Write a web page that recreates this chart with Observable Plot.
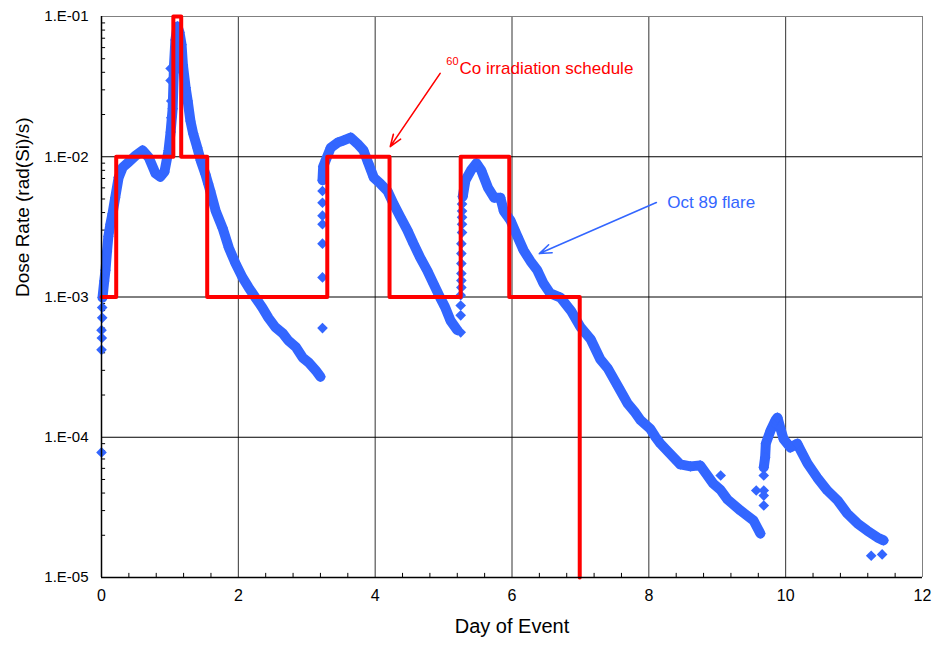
<!DOCTYPE html>
<html>
<head>
<meta charset="utf-8">
<script src="https://cdn.jsdelivr.net/npm/d3@7"></script>
<script src="https://cdn.jsdelivr.net/npm/@observablehq/plot@0.6"></script>
<style>
  html, body { margin: 0; padding: 0; background: #fff; }
</style>
</head>
<body>
<div id="chart"></div>
<script>
// ---- Data (day of event, dose rate rad(Si)/s) ----
// Oct 89 flare: continuous dense portions of the measured record
const flare1 = [
  [0.015, 0.00099],[0.04, 0.0013],[0.058, 0.00155],[0.08, 0.0021],[0.10, 0.0027],[0.13, 0.0033],
  [0.16, 0.0039],[0.20, 0.0051],[0.25, 0.0071],[0.31, 0.0084],[0.39, 0.0091],[0.50, 0.0102],
  [0.60, 0.0111],[0.69, 0.0099],[0.79, 0.0076],[0.86, 0.0072],[0.92, 0.0078],[0.98, 0.0111],
  [1.01, 0.0150],[1.04, 0.022],[1.06, 0.045],[1.08, 0.068],[1.11, 0.085],[1.14, 0.077],
  [1.17, 0.063],[1.19, 0.045],[1.23, 0.031],[1.26, 0.025],[1.30, 0.018],[1.34, 0.0146],
  [1.40, 0.0116],[1.45, 0.0094],[1.52, 0.0075],[1.56, 0.0064],[1.59, 0.0057],[1.67, 0.0041],
  [1.77, 0.0031],[1.86, 0.00225],[1.96, 0.00173],[2.06, 0.00138],[2.15, 0.00117],[2.25, 0.00099],
  [2.35, 0.00084],[2.44, 0.00071],[2.54, 0.00061],[2.65, 0.00055],[2.73, 0.00049],[2.84, 0.00044],
  [2.94, 0.00037],[3.03, 0.00034],[3.13, 0.00030],[3.20, 0.00027]
];
const flare2 = [
  [3.23, 0.0068],[3.24, 0.0085],[3.28, 0.0095],[3.35, 0.0116],[3.45, 0.0126],[3.54, 0.0131],
  [3.64, 0.0137],[3.74, 0.0124],[3.83, 0.0111],[3.90, 0.0090],[3.98, 0.0071],[4.08, 0.0064],
  [4.18, 0.0057],[4.27, 0.0046],[4.37, 0.0037],[4.47, 0.0030],[4.56, 0.0024],[4.66, 0.0019],
  [4.76, 0.00155],[4.85, 0.00125],[4.95, 0.00099],[5.02, 0.00085],[5.10, 0.00068],[5.20, 0.00058]
];
const flare3 = [
  [5.28, 0.0052],[5.32, 0.0068],[5.40, 0.0080],[5.48, 0.0090],[5.55, 0.0080],[5.65, 0.0060],
  [5.74, 0.0051],[5.83, 0.0051],[5.88, 0.0041],[5.98, 0.0035],[6.08, 0.0027],[6.17, 0.00215],
  [6.27, 0.0018],[6.37, 0.00155],[6.46, 0.00125],[6.56, 0.00106],[6.71, 0.00099],[6.86, 0.00080],
  [7.00, 0.00061],[7.15, 0.00050],[7.29, 0.00036],[7.40, 0.00031],[7.55, 0.00023],[7.69, 0.000174],
  [7.80, 0.000150],[7.88, 0.000132],[8.02, 0.000115],[8.10, 0.000100],[8.17, 0.000090],[8.27, 0.000080],
  [8.46, 0.000064],[8.61, 0.000062],[8.75, 0.000063],[8.94, 0.0000468],[9.05, 0.000042],[9.15, 0.000036],
  [9.34, 0.000030],[9.53, 0.0000255],[9.63, 0.0000206]
];
const flare4 = [
  [9.68, 0.000061],[9.70, 0.000072],[9.71, 0.000090],[9.78, 0.000112],[9.85, 0.000132],[9.88, 0.000138],
  [9.92, 0.000117],[9.97, 0.000097],[10.07, 0.0000845],[10.17, 0.000090],[10.22, 0.0000805],[10.32, 0.000065],
  [10.46, 0.0000516],[10.61, 0.0000417],[10.76, 0.0000354],[10.90, 0.0000286],[11.05, 0.0000243],
  [11.19, 0.0000216],[11.34, 0.0000193],[11.43, 0.0000184]
];
// isolated flare samples (fast rises and outliers)
const flareIsolated = [
  [0.00, 0.000078],[0.00, 0.00042],[0.005, 0.00051],[0.00, 0.00058],[0.01, 0.00071],[0.01, 0.00084],
  [1.01, 0.0426],[1.01, 0.035],[1.02, 0.025],[1.02, 0.019],
  [3.23, 0.00060],[3.23, 0.00138],[3.23, 0.0024],[3.23, 0.0033],[3.23, 0.0038],[3.23, 0.0047],[3.23, 0.0057],
  [5.25, 0.00056],[5.25, 0.00074],[5.25, 0.00087],[5.25, 0.00103],[5.26, 0.00117],[5.26, 0.00131],
  [5.26, 0.00147],[5.26, 0.00173],[5.26, 0.00204],[5.26, 0.0024],[5.27, 0.00288],[5.27, 0.0033],
  [5.27, 0.0037],[5.27, 0.0041],[5.27, 0.0046],
  [9.05, 0.0000534],[9.57, 0.0000417],[9.68, 0.0000417],[9.68, 0.0000384],[9.68, 0.0000326],[9.68, 0.0000534],
  [11.25, 0.0000143],[11.41, 0.0000146]
];
// 60Co irradiation schedule: level changes (step after)
const coSchedule = [
  [0, 1e-3],[0.215, 1e-2],[1.05, 1e-1],[1.165, 1e-2],[1.545, 1e-3],
  [3.30, 1e-2],[4.21, 1e-3],[5.25, 1e-2],[5.96, 1e-3],[6.99, 1e-5]
];
// ticks
const xTicks = [0, 2, 4, 6, 8, 10, 12];
const yTicks = [1e-5, 1e-4, 1e-3, 1e-2, 1e-1];
const yTickLabels = ["1.E-05", "1.E-04", "1.E-03", "1.E-02", "1.E-01"];
const xTitle = "Day of Event";
const yTitle = "Dose Rate (rad(Si)/s)";
// annotations (anchored in data coordinates)
const coArrow = [{x1: 4.95, y1: 0.0393, x2: 4.22, y2: 0.0118}];
const flareArrow = [{x1: 8.11, y1: 0.00472, x2: 6.40, y2: 0.00204}];
const coLabel = [{day: 5.232, rate: 0.0426, text: "Co irradiation schedule"}];
const coSup = [{day: 5.04, rate: 0.0475, text: "60"}];
const flareLabel = [{day: 8.27, rate: 0.00472, text: "Oct 89 flare"}];

// ---- build ----
const blue = "#3366ff", red = "#ff0000";
const rows = (arr, seg) => arr.map(([day, rate]) => ({day, rate, seg}));
const bandData = [...rows(flare1, 1), ...rows(flare2, 2), ...rows(flare3, 3), ...rows(flare4, 4)];
const isoData = rows(flareIsolated, 0);
const schedData = rows(coSchedule, 0);

const minorY = [];
for (const d of [1e-5, 1e-4, 1e-3, 1e-2]) for (let m = 2; m <= 9; m++) minorY.push(m * d);
const minorX = d3.range(1, 30).filter(i => i % 5 !== 0).map(i => i * 0.4);

const chart = Plot.plot({
  width: 935,
  height: 645,
  marginLeft: 101,
  marginRight: 13,
  marginTop: 16,
  marginBottom: 68,
  x: {domain: [0, 12], axis: null},
  y: {type: "log", domain: [1e-5, 1e-1], axis: null},
  style: {fontFamily: "'Liberation Sans', Arial, sans-serif", background: "#fff", color: "#000", overflow: "visible"},
  marks: [
    // grid
    Plot.ruleX(xTicks.slice(1, -1), {stroke: "#333", strokeWidth: 1}),
    Plot.ruleY(yTicks.slice(1, -1), {stroke: "#000", strokeWidth: 1}),
    // top & right border
    Plot.ruleY([1e-1], {stroke: "#808080", strokeWidth: 1}),
    Plot.ruleX([12], {stroke: "#808080", strokeWidth: 1}),
    // minor ticks (inward)
    Plot.ruleY(minorY, {x1: () => 0, x2: () => 0.06, stroke: "#000", strokeWidth: 1}),
    Plot.ruleX(minorX, {y1: () => 1e-5, y2: () => 1.07e-5, stroke: "#000", strokeWidth: 1}),
    // flare data
    Plot.line(bandData, {x: "day", y: "rate", z: "seg", stroke: blue, strokeWidth: 10,
      strokeLinejoin: "round", strokeLinecap: "round"}),
    Plot.dot([...bandData, ...isoData], {x: "day", y: "rate", symbol: "diamond2", r: 4.8, fill: blue, stroke: "none"}),
    // 60Co schedule
    Plot.line(schedData, {x: "day", y: "rate", curve: "step-after", stroke: red, strokeWidth: 4}),
    // axes lines
    Plot.ruleX([0], {stroke: "#000", strokeWidth: 1.5}),
    Plot.ruleY([1e-5], {stroke: "#000", strokeWidth: 1.5}),
    // tick labels
    Plot.text(yTickLabels, {y: yTicks, text: d => d, frameAnchor: "left", textAnchor: "end", dx: -13,
      fontSize: 15, fill: "#000"}),
    Plot.text(xTicks, {x: d => d, text: d => String(d), frameAnchor: "bottom", dy: 23,
      fontSize: 16, fill: "#000"}),
    // axis titles
    Plot.text([xTitle], {frameAnchor: "bottom", dy: 55, fontSize: 20, fill: "#000"}),
    Plot.text([yTitle], {frameAnchor: "left", dx: -79, rotate: -90, fontSize: 19, fill: "#000"}),
    // annotations
    Plot.arrow(coArrow, {x1: "x1", y1: "y1", x2: "x2", y2: "y2", stroke: red, strokeWidth: 1.6, headLength: 12, headAngle: 40}),
    Plot.arrow(flareArrow, {x1: "x1", y1: "y1", x2: "x2", y2: "y2", stroke: blue, strokeWidth: 1.6, headLength: 12, headAngle: 40}),
    Plot.text(coLabel, {x: "day", y: "rate", text: "text", textAnchor: "start", fontSize: 17, fill: red}),
    Plot.text(coSup, {x: "day", y: "rate", text: "text", textAnchor: "start", fontSize: 11, fill: red}),
    Plot.text(flareLabel, {x: "day", y: "rate", text: "text", textAnchor: "start", fontSize: 17, fill: blue})
  ]
});
document.getElementById("chart").appendChild(chart);
</script>
</body>
</html>
